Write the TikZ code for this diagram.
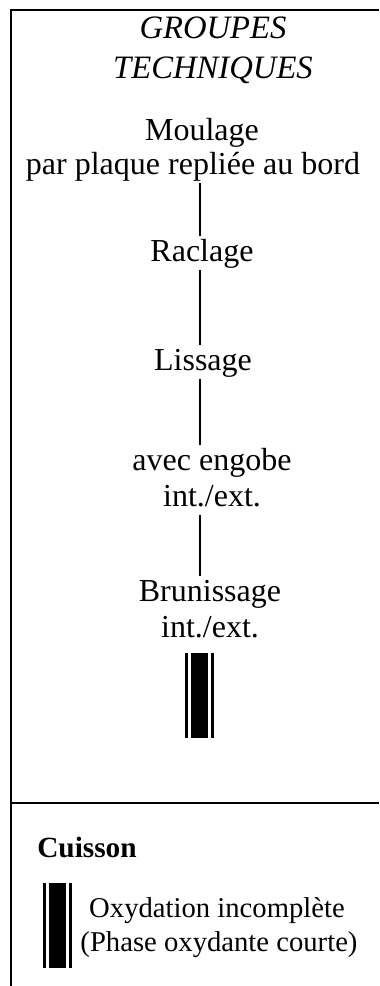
\documentclass[tikz,border=0pt]{standalone}
\usepackage{fontspec}
\setmainfont{Liberation Serif}
\usetikzlibrary{positioning}
\tikzset{
	oxbars/.pic={
		\fill (-14.5,0) rectangle (-11.5,85);
		\fill (-8.5,0) rectangle (8.5,85);
		\fill (11.5,0) rectangle (14.5,85);
	}
}
\begin{document}
\begin{tikzpicture}[x=0.75pt, y=-0.75pt, line join=miter,
	lbl/.style={inner sep=0pt, outer sep=1.5pt, anchor=base, text height=17pt, text depth=5.5pt, font=\fontsize{24}{28}\selectfont},
	ttl/.style={lbl, font=\fontsize{24.5}{28}\selectfont\itshape},
	low/.style={inner sep=0pt, anchor=base, font=\fontsize{21.5}{26}\selectfont},
	lnk/.style={line width=1.7pt}]
		\useasboundingbox (0,0) rectangle (379,986);
		\draw[line width=1.5pt] (11,986) -- (11,10) -- (379,10);
		\draw[line width=2pt] (11,803) -- (379,803);
		\node[ttl] (grp) at (213,38) {GROUPES};
		\node[ttl] (tech) at (213,78) {TECHNIQUES};
		\node[lbl] (moul) at (202,140) {Moulage};
		\node[lbl] (plaq) at (193,174) {par plaque repliée au bord};
		\node[lbl] (racl) at (202,261) {Raclage};
		\node[lbl] (liss) at (203,370) {Lissage};
		\node[lbl] (engo) at (212,470) {avec engobe};
		\node[lbl] (engx) at (212,506) {int./ext.};
		\node[lbl] (brun) at (210,601) {Brunissage};
		\node[lbl] (brux) at (210,637) {int./ext.};
		\coordinate (axis) at (200,0);
		\draw[lnk] (plaq.south -| axis) -- (racl.north -| axis);
		\draw[lnk] (racl.south -| axis) -- (liss.north -| axis);
		\draw[lnk] (liss.south -| axis) -- (engo.north -| axis);
		\draw[lnk] (engx.south -| axis) -- (brun.north -| axis);
		\pic at (199.5,653) {oxbars};
		\node[low, anchor=base west, font=\fontsize{22}{26}\selectfont\bfseries] (cuis) at (37,857) {Cuisson};
		\pic at (57,883) {oxbars};
		\node[low] (oxy1) at (217,917) {Oxydation incomplète};
		\node[low] (oxy2) at (219,951) {(Phase oxydante courte)};
	\end{tikzpicture}
\end{document}
